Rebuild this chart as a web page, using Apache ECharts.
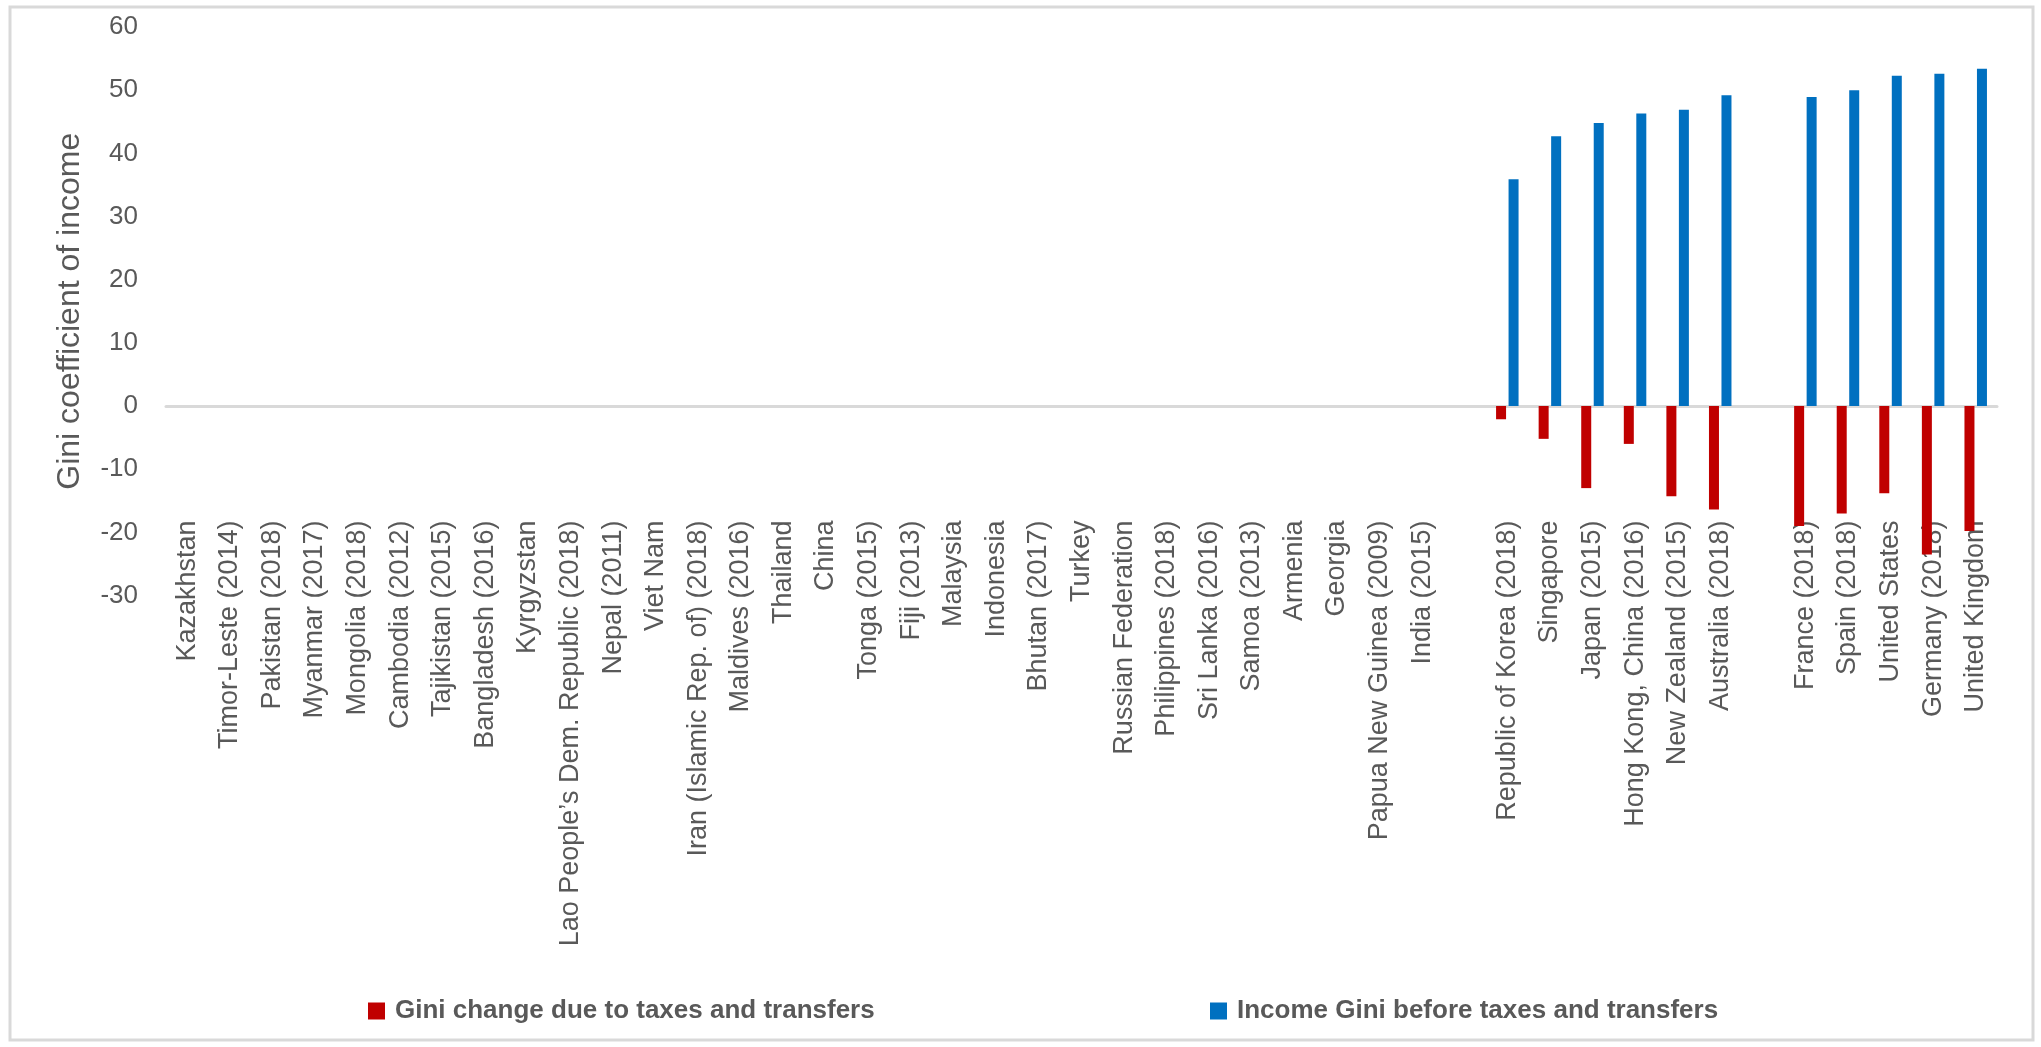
<!DOCTYPE html>
<html>
<head>
<meta charset="utf-8">
<script src="https://cdn.jsdelivr.net/npm/echarts@6/dist/echarts.min.js"></script>
<style>
  html, body { margin: 0; padding: 0; background: #ffffff; }
  #chart { width: 2041px; height: 1047px; }
</style>
</head>
<body>
<div id="chart"></div>
<script>
// Economies in display order; empty strings are spacer slots between groups.
const categories = [
  'Kazakhstan', 'Timor-Leste (2014)', 'Pakistan (2018)', 'Myanmar (2017)', 'Mongolia (2018)',
  'Cambodia (2012)', 'Tajikistan (2015)', 'Bangladesh (2016)', 'Kyrgyzstan',
  'Lao People\u2019s Dem. Republic (2018)', 'Nepal (2011)', 'Viet Nam',
  'Iran (Islamic Rep. of) (2018)', 'Maldives (2016)', 'Thailand', 'China', 'Tonga (2015)',
  'Fiji (2013)', 'Malaysia', 'Indonesia', 'Bhutan (2017)', 'Turkey', 'Russian Federation',
  'Philippines (2018)', 'Sri Lanka (2016)', 'Samoa (2013)', 'Armenia', 'Georgia',
  'Papua New Guinea (2009)', 'India (2015)',
  '',
  'Republic of Korea (2018)', 'Singapore', 'Japan (2015)', 'Hong Kong, China (2016)',
  'New Zealand (2015)', 'Australia (2018)',
  '',
  'France (2018)', 'Spain (2018)', 'United States', 'Germany (2018)', 'United Kingdom'
];

// Gini change due to taxes and transfers (points); null = no data.
const giniChange = [
  null, null, null, null, null, null, null, null, null, null,
  null, null, null, null, null, null, null, null, null, null,
  null, null, null, null, null, null, null, null, null, null,
  null,
  -2.1, -5.2, -13.0, -6.0, -14.3, -16.4,
  null,
  -19.0, -17.0, -13.8, -23.5, -19.8
];

// Income Gini before taxes and transfers; null = no data.
const giniBefore = [
  null, null, null, null, null, null, null, null, null, null,
  null, null, null, null, null, null, null, null, null, null,
  null, null, null, null, null, null, null, null, null, null,
  null,
  35.9, 42.7, 44.8, 46.3, 46.9, 49.2,
  null,
  48.9, 50.0, 52.3, 52.6, 53.4
];

// Value axis ticks
const yMin = -30;
const yMax = 60;
const yStep = 10;

const seriesNames = ['Gini change due to taxes and transfers', 'Income Gini before taxes and transfers'];
const seriesColors = ['#C00000', '#0070C0'];

const textGrey = '#595959';
const chart = echarts.init(document.getElementById('chart'), null, { renderer: 'canvas' });

const legendText = {
  color: textGrey,
  fontFamily: 'Liberation Sans, Arial, sans-serif',
  fontWeight: 'bold',
  fontSize: 26,
  padding: [0, 0, 0, 5]
};

chart.setOption({
  backgroundColor: '#ffffff',
  animation: false,
  graphic: [{
    type: 'rect',
    silent: true,
    shape: { x: 10, y: 7, width: 2023, height: 1033 },
    style: { fill: 'none', stroke: '#d9d9d9', lineWidth: 3 }
  }],
  grid: {
    left: 166, right: 44, top: 27, bottom: 451.5,
    containLabel: false,
    outerBoundsMode: 'none'
  },
  legend: [
    {
      data: [seriesNames[0]], left: 363, top: 993, icon: 'rect',
      itemWidth: 17, itemHeight: 17, textStyle: legendText
    },
    {
      data: [seriesNames[1]], left: 1205, top: 993, icon: 'rect',
      itemWidth: 17, itemHeight: 17, textStyle: legendText
    }
  ],
  xAxis: {
    type: 'category',
    data: categories,
    axisLine: { onZero: true, lineStyle: { color: '#d9d9d9', width: 3 } },
    axisTick: { show: false },
    axisLabel: {
      interval: 0,
      rotate: 90,
      // labels sit just below the -20 level, inside the plot's lower band
      margin: -75,
      color: textGrey,
      fontFamily: 'Liberation Sans, Arial, sans-serif',
      fontSize: 27
    },
    splitLine: { show: false }
  },
  yAxis: {
    type: 'value',
    min: yMin,
    max: yMax,
    interval: yStep,
    name: 'Gini coefficient of income',
    nameLocation: 'middle',
    nameGap: 80,
    nameTextStyle: {
      color: textGrey,
      fontFamily: 'Liberation Sans, Arial, sans-serif',
      fontSize: 32
    },
    axisLine: { show: false },
    axisTick: { show: false },
    splitLine: { show: false },
    axisLabel: {
      color: textGrey,
      fontFamily: 'Liberation Sans, Arial, sans-serif',
      fontSize: 26,
      margin: 28
    }
  },
  series: [
    {
      name: seriesNames[0], type: 'bar', data: giniChange,
      barWidth: 10, barGap: '25%',
      itemStyle: { color: seriesColors[0] }
    },
    {
      name: seriesNames[1], type: 'bar', data: giniBefore,
      barWidth: 10, barGap: '25%',
      itemStyle: { color: seriesColors[1] }
    }
  ]
});
</script>
</body>
</html>
